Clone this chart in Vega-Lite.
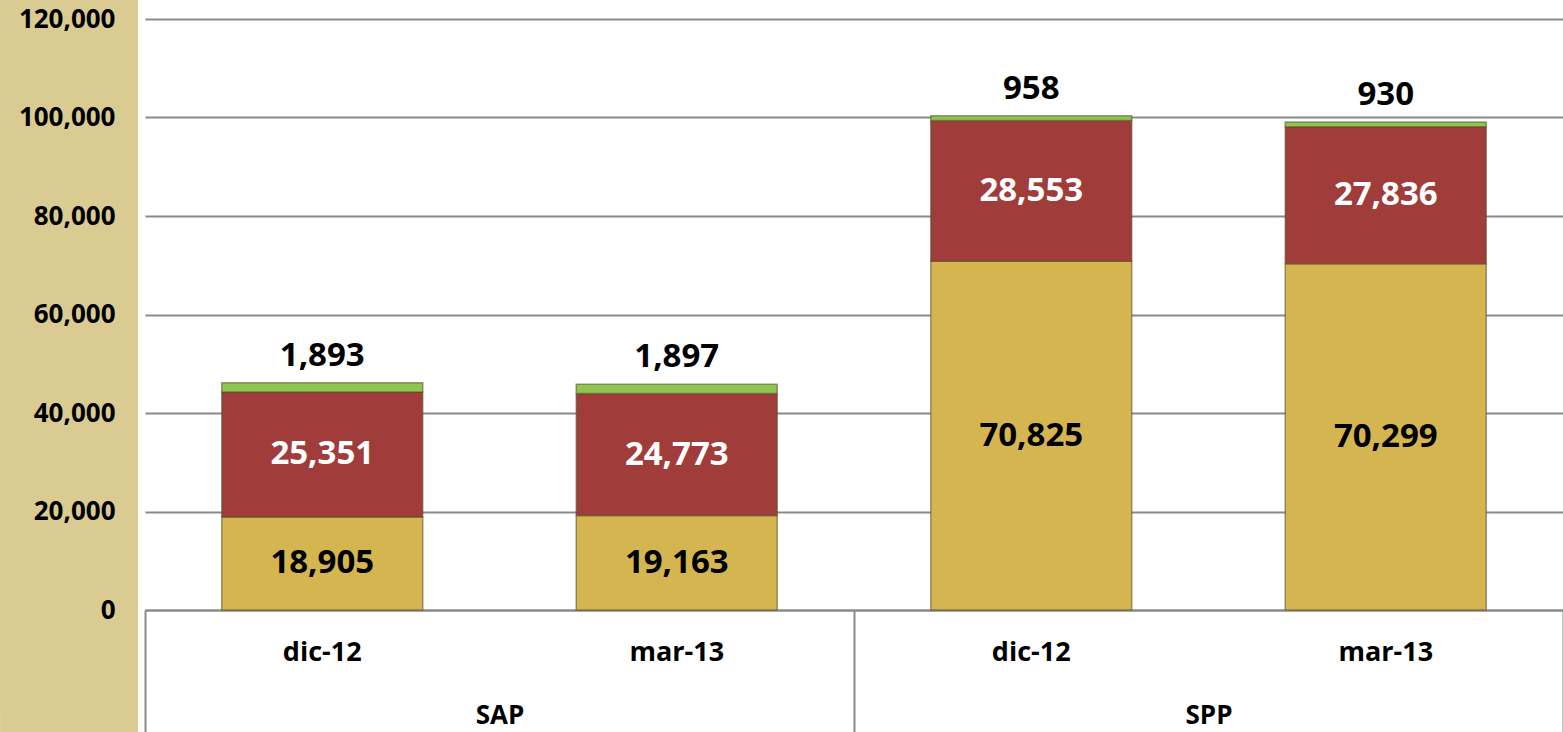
{
  "$schema": "https://vega.github.io/schema/vega-lite/v6.json",
  "width": 1418,
  "height": 591,
  "autosize": {"type": "none"},
  "padding": {"left": 145, "top": 19, "right": 0, "bottom": 122},
  "background": "white",
  "config": {"font": "Open Sans", "view": {"stroke": null}},
  "layer": [
    {
      "data": {
        "values": [
          {"group": "SAP", "month": "dic-12", "key": "SAP|dic-12", "serie": "Serie 1", "order": 1, "value": 18905},
          {"group": "SAP", "month": "dic-12", "key": "SAP|dic-12", "serie": "Serie 2", "order": 2, "value": 25351},
          {"group": "SAP", "month": "dic-12", "key": "SAP|dic-12", "serie": "Serie 3", "order": 3, "value": 1893},
          {"group": "SAP", "month": "mar-13", "key": "SAP|mar-13", "serie": "Serie 1", "order": 1, "value": 19163},
          {"group": "SAP", "month": "mar-13", "key": "SAP|mar-13", "serie": "Serie 2", "order": 2, "value": 24773},
          {"group": "SAP", "month": "mar-13", "key": "SAP|mar-13", "serie": "Serie 3", "order": 3, "value": 1897},
          {"group": "SPP", "month": "dic-12", "key": "SPP|dic-12", "serie": "Serie 1", "order": 1, "value": 70825},
          {"group": "SPP", "month": "dic-12", "key": "SPP|dic-12", "serie": "Serie 2", "order": 2, "value": 28553},
          {"group": "SPP", "month": "dic-12", "key": "SPP|dic-12", "serie": "Serie 3", "order": 3, "value": 958},
          {"group": "SPP", "month": "mar-13", "key": "SPP|mar-13", "serie": "Serie 1", "order": 1, "value": 70299},
          {"group": "SPP", "month": "mar-13", "key": "SPP|mar-13", "serie": "Serie 2", "order": 2, "value": 27836},
          {"group": "SPP", "month": "mar-13", "key": "SPP|mar-13", "serie": "Serie 3", "order": 3, "value": 930}
        ]
      },
      "transform": [
        {"stack": "value", "groupby": ["key"], "sort": [{"field": "order", "order": "ascending"}], "as": ["y0", "y1"]},
        {"calculate": "(datum.y0 + datum.y1) / 2", "as": "ymid"}
      ],
      "encoding": {
        "x": {
          "field": "key",
          "type": "nominal",
          "scale": {"paddingInner": 0.433, "paddingOuter": 0.2165},
          "axis": {
            "orient": "bottom",
            "title": null,
            "labelExpr": "split(datum.label, '|')[1]",
            "ticks": false,
            "tickSize": 0,
            "domain": true,
            "domainColor": "#8a8a8a",
            "domainWidth": 2,
            "grid": false,
            "labelPadding": 42,
            "labelBaseline": "middle",
            "labelAngle": 0,
            "labelFontSize": 27,
            "labelFontWeight": "bold",
            "labelColor": "black"
          }
        }
      },
      "layer": [
        {
          "mark": {"type": "bar", "stroke": "#5a4a2a", "strokeOpacity": 0.55, "strokeWidth": 1.5},
          "encoding": {
            "y": {
              "field": "y0",
              "type": "quantitative",
              "scale": {"domain": [0, 120000]},
              "axis": {
                "title": null,
                "values": [0, 20000, 40000, 60000, 80000, 100000, 120000],
                "format": ",d",
                "grid": true,
                "gridColor": "#8a8a8a",
                "gridWidth": 2,
                "domain": false,
                "ticks": true,
                "tickColor": "#dacb93",
                "tickSize": 137,
                "tickWidth": 1000,
                "offset": 8,
                "labelPadding": -115,
                "labelFontSize": 26,
                "labelFontWeight": "bold",
                "labelColor": "black",
                "labelBaseline": "middle"
              }
            },
            "y2": {"field": "y1"},
            "color": {
              "field": "serie",
              "type": "nominal",
              "scale": {"domain": ["Serie 1", "Serie 2", "Serie 3"], "range": ["#d4b54f", "#a03d3b", "#8dc54e"]},
              "legend": null
            }
          }
        },
        {
          "transform": [{"filter": "datum.serie != 'Serie 3'"}],
          "mark": {"type": "text", "fontSize": 33, "fontWeight": "bold", "baseline": "middle", "align": "center"},
          "encoding": {
            "y": {"field": "ymid", "type": "quantitative"},
            "text": {"field": "value", "type": "quantitative", "format": ",d"},
            "color": {"condition": {"test": "datum.serie == 'Serie 2'", "value": "white"}, "value": "black"}
          }
        },
        {
          "transform": [{"filter": "datum.serie == 'Serie 3'"}],
          "mark": {"type": "text", "fontSize": 33, "fontWeight": "bold", "baseline": "middle", "align": "center", "dy": -27, "color": "black"},
          "encoding": {
            "y": {"field": "y1", "type": "quantitative"},
            "text": {"field": "value", "type": "quantitative", "format": ",d"}
          }
        }
      ]
    },
    {
      "data": {"values": [{"group": "SAP"}, {"group": "SPP"}]},
      "mark": {"type": "rule", "strokeOpacity": 0},
      "encoding": {
        "x": {
          "field": "group",
          "type": "nominal",
          "scale": {"paddingInner": 0, "paddingOuter": 0},
          "axis": {
            "orient": "bottom",
            "title": null,
            "tickBand": "extent",
            "ticks": true,
            "tickSize": 122,
            "tickColor": "#8a8a8a",
            "tickWidth": 2,
            "domain": false,
            "grid": false,
            "labelPadding": -17,
            "labelBaseline": "middle",
            "labelAngle": 0,
            "labelFontSize": 26,
            "labelFontWeight": "bold",
            "labelColor": "black"
          }
        }
      }
    }
  ],
  "resolve": {"scale": {"x": "independent"}}
}
